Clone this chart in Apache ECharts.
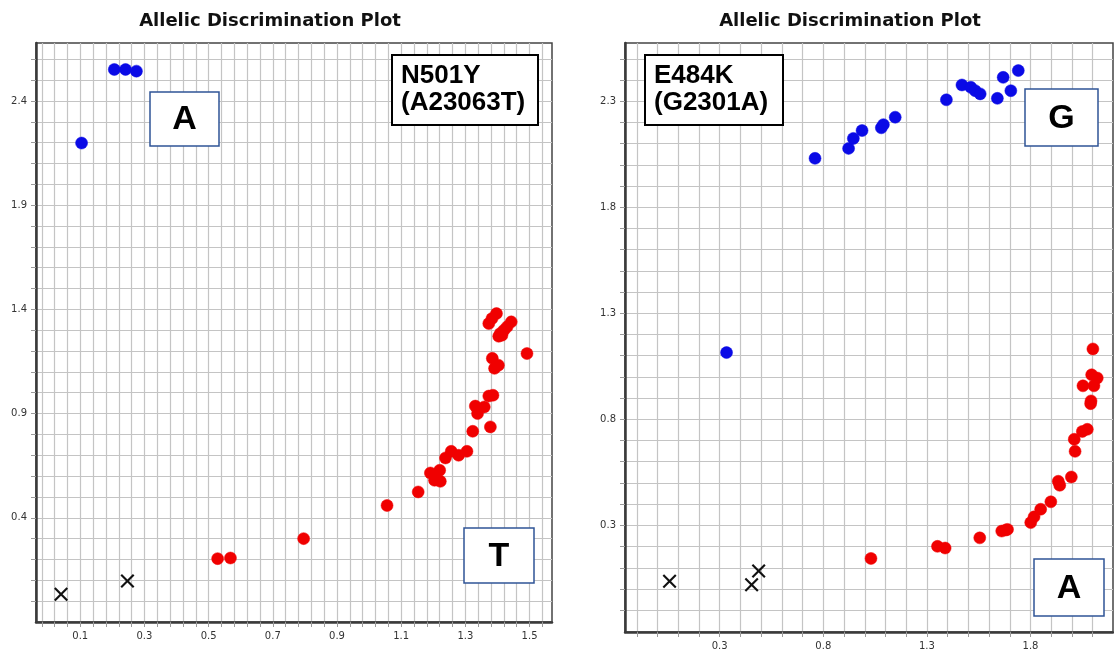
<!DOCTYPE html>
<html><head><meta charset="utf-8">
<script src="https://cdn.jsdelivr.net/npm/echarts@6/dist/echarts.min.js"></script>
<style>html,body{margin:0;padding:0;background:#fff}#c{width:1114px;height:652px}</style>
</head><body><div id="c"></div><script>
// ---- Plot 1: N501Y (A23063T) ----
const n501yXLabels = [0.1, 0.3, 0.5, 0.7, 0.9, 1.1, 1.3, 1.5];
const n501yYLabels = [0.4, 0.9, 1.4, 1.9, 2.4];
const n501yAlleleA = [[0.206,2.551],[0.241,2.551],[0.275,2.543],[0.104,2.198]];
const n501yAlleleT = [
  [0.528,0.204],[0.568,0.207],[0.796,0.300],[1.056,0.459],[1.153,0.524],
  [1.191,0.615],[1.207,0.596],[1.220,0.628],[1.222,0.575],[1.204,0.580],
  [1.238,0.687],[1.256,0.719],[1.279,0.700],[1.305,0.719],[1.323,0.815],
  [1.331,0.936],[1.338,0.900],[1.359,0.932],[1.378,0.836],[1.373,0.984],
  [1.386,0.988],[1.384,1.165],[1.403,1.132],[1.391,1.117],[1.373,1.332],
  [1.383,1.356],[1.397,1.380],[1.409,1.284],[1.420,1.300],[1.430,1.316],
  [1.443,1.340],[1.414,1.276],[1.404,1.271],[1.492,1.188]
];
const n501yUndetermined = [[0.040,0.033],[0.247,0.097]];

// ---- Plot 2: E484K (G2301A) ----
const e484kXLabels = [0.3, 0.8, 1.3, 1.8];
const e484kYLabels = [0.3, 0.8, 1.3, 1.8, 2.3];
const e484kAlleleG = [
  [0.333,1.115],[0.760,2.031],[0.922,2.078],[0.945,2.125],[0.987,2.162],
  [1.080,2.175],[1.090,2.190],[1.147,2.225],[1.394,2.307],[1.469,2.377],
  [1.512,2.366],[1.533,2.350],[1.557,2.335],[1.640,2.314],[1.668,2.413],
  [1.705,2.350],[1.741,2.445]
];
const e484kAlleleA = [
  [1.030,0.144],[1.351,0.201],[1.388,0.193],[1.555,0.241],[1.661,0.273],
  [1.681,0.278],[1.689,0.281],[1.801,0.313],[1.817,0.340],[1.849,0.376],
  [1.898,0.411],[1.934,0.508],[1.941,0.489],[1.997,0.528],[2.015,0.649],
  [2.011,0.706],[2.050,0.743],[2.074,0.753],[2.090,0.874],[2.092,0.887],
  [2.053,0.958],[2.095,1.010],[2.106,0.958],[2.122,0.995],[2.101,1.132]
];
const e484kUndetermined = [[0.058,0.036],[0.454,0.020],[0.488,0.085]];

// grid-line positions (axis decoration, not data)
function steps(start, count, step){const a=[];for(let i=0;i<count;i++)a.push(+(start+i*step).toFixed(3));return a;}
const n501yXGrid = steps(-0.02, 40, 0.04);
const n501yYGrid = steps(0.0, 27, 0.1);
const e484kXGrid = steps(-0.1, 24, 0.1);
const e484kYGrid = steps(-0.1, 27, 0.1);

const crossPath = 'path://M1.3,0 L6,4.7 L10.7,0 L12,1.3 L7.3,6 L12,10.7 L10.7,12 L6,7.3 L1.3,12 L0,10.7 L4.7,6 L0,1.3 Z';
const labelFont = {color:'#333', fontSize:10, fontFamily:'DejaVu Sans'};

function makeAxis(idx, min, max, grid, labels){
  return {type:'value', gridIndex:idx, min:min, max:max,
    axisLine:{show:true, onZero:false, lineStyle:{color:'#3a3a3a', width:2.5}},
    axisTick:{show:true, customValues:grid, length:5, lineStyle:{color:'#9a9a9a'}},
    axisLabel:Object.assign({customValues:labels, margin:9, formatter:v=>String(v)}, labelFont),
    splitLine:{show:true, lineStyle:{color:'#c4c4c4', width:1.2}}};
}
function scatter(idx, data, color){
  return {type:'scatter', xAxisIndex:idx, yAxisIndex:idx, data:data, symbolSize:12,
    itemStyle:{color:color, borderColor:color, borderWidth:0.5, opacity:1}};
}
function crosses(idx, data){
  return {type:'scatter', xAxisIndex:idx, yAxisIndex:idx, data:data, symbol:crossPath, symbolSize:14,
    itemStyle:{color:'#111', opacity:1}};
}
function box(x,y,w,h,stroke,lw,txt,font,align){
  const els=[{type:'rect', shape:{x:x,y:y,width:w,height:h}, style:{fill:'#fff', stroke:stroke, lineWidth:lw}, z:10}];
  if(align==='center'){
    els.push({type:'text', x:x+w/2, y:y+h/2+1, style:{text:txt, font:font, fill:'#000', textAlign:'center', textVerticalAlign:'middle'}, z:11});
  } else {
    els.push({type:'text', x:x+9, y:y+7, style:{text:txt, font:font, fill:'#000', lineHeight:27}, z:11});
  }
  return els;
}

const chart = echarts.init(document.getElementById('c'), null, {renderer:'canvas'});
chart.setOption({
  backgroundColor:'#fff',
  animation:false,
  title:[
    {text:'Allelic Discrimination Plot', left:265, top:7, textAlign:'center',
      textStyle:{fontFamily:'DejaVu Sans', fontWeight:'bold', fontSize:18, color:'#111'}},
    {text:'Allelic Discrimination Plot', left:845, top:7, textAlign:'center',
      textStyle:{fontFamily:'DejaVu Sans', fontWeight:'bold', fontSize:18, color:'#111'}}
  ],
  grid:[
    {left:36, top:43, width:516, height:579, show:true, borderColor:'#444', borderWidth:1.5, backgroundColor:'#fff'},
    {left:625, top:43, width:488, height:589, show:true, borderColor:'#444', borderWidth:1.5, backgroundColor:'#fff'}
  ],
  xAxis:[makeAxis(0,-0.038,1.57,n501yXGrid,n501yXLabels), makeAxis(1,-0.157,2.198,e484kXGrid,e484kXLabels)],
  yAxis:[makeAxis(0,-0.1,2.678,n501yYGrid,n501yYLabels), makeAxis(1,-0.203,2.575,e484kYGrid,e484kYLabels)],
  series:[
    scatter(0,n501yAlleleA,'#0a0ae6'), scatter(0,n501yAlleleT,'#f00000'), crosses(0,n501yUndetermined),
    scatter(1,e484kAlleleG,'#0a0ae6'), scatter(1,e484kAlleleA,'#f00000'), crosses(1,e484kUndetermined)
  ],
  graphic:[].concat(
    box(392,55,146,70,'#000',2,'N501Y\n(A23063T)','bold 26px "Liberation Sans"','left'),
    box(150,92,69,54,'#2f5496',1.5,'A','bold 34px "Liberation Sans"','center'),
    box(464,528,70,55,'#2f5496',1.5,'T','bold 34px "Liberation Sans"','center'),
    box(645,55,138,70,'#000',2,'E484K\n(G2301A)','bold 26px "Liberation Sans"','left'),
    box(1025,89,73,57,'#2f5496',1.5,'G','bold 34px "Liberation Sans"','center'),
    box(1034,559,70,57,'#2f5496',1.5,'A','bold 34px "Liberation Sans"','center')
  )
});
</script></body></html>
